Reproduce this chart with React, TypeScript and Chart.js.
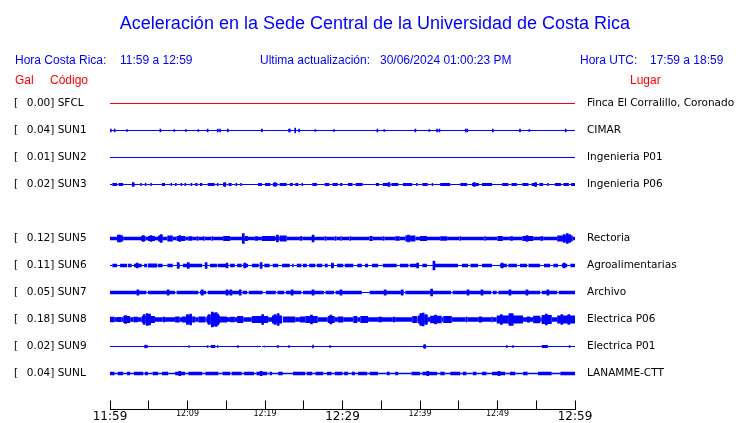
import React, { useEffect, useRef } from "react";
import { Chart, registerables } from "chart.js";

Chart.register(...registerables);

// ---------- texts ----------
const TITLE = "Aceleración en la Sede Central de la Universidad de Costa Rica";
const HEADER_CR = ["Hora Costa Rica:", "11:59 a 12:59"];
const HEADER_UPD = ["Ultima actualización:", "30/06/2024 01:00:23 PM"];
const HEADER_UTC = ["Hora UTC:", "17:59 a 18:59"];
const COL_GAL = "Gal";
const COL_CODE = "Código";
const COL_PLACE = "Lugar";

// ---------- stations ----------
const CODES = ["SFCL", "SUN1", "SUN2", "SUN3", "SUN5", "SUN6", "SUN7", "SUN8", "SUN9", "SUNL"];
const ROWS = [0, 1, 2, 3, 5, 6, 7, 8, 9, 10];
const GAL = ["0.00", "0.04", "0.01", "0.02", "0.12", "0.11", "0.05", "0.18", "0.02", "0.04"];
const PLACES = [
  "Finca El Corralillo, Coronado",
  "CIMAR",
  "Ingenieria P01",
  "Ingenieria P06",
  "Rectoria",
  "Agroalimentarias",
  "Archivo",
  "Electrica P06",
  "Electrica P01",
  "LANAMME-CTT",
];

// time axis (minutes after 11:59)
const X_LABELS = ["11:59", "12:09", "12:19", "12:29", "12:39", "12:49", "12:59"];
const BIG_LABELS = ["11:59", "12:29", "12:59"];

// background amplitude of each trace (half-height, amplitude units)
const BASE_AMP = [0.5, 0.5, 0.5, 0.5, 1.75, 0.5, 1.75, 2.25, 0.5, 0.75];

// bands: [startMin, endMin, amplitude]
const SFCL_BANDS: number[][] = [];
const SUN1_BANDS: number[][] = [];
const SUN2_BANDS: number[][] = [];
const SUN3_BANDS = [
  [0.3, 0.9, 1.5], [1.1, 1.7, 1.5], [2.9, 3.1, 1.5], [3.9, 4.1, 1.5], [4.5, 4.7, 1.5], [5.2, 5.4, 1.5],
  [6.7, 7.1, 1.5], [7.8, 8.0, 1.5], [8.4, 8.6, 1.5], [9.1, 9.3, 1.5], [9.6, 9.8, 1.5], [10.4, 10.6, 1.5],
  [11.0, 11.3, 1.5], [11.6, 11.9, 1.5], [12.6, 13.5, 1.5], [13.8, 14.0, 1.5], [14.6, 15.0, 1.5],
  [15.3, 15.7, 1.5], [16.2, 16.4, 1.5], [16.8, 17.0, 1.5], [19.1, 19.6, 1.5], [20.0, 20.7, 1.5],
  [21.0, 21.6, 1.5], [21.9, 22.8, 1.5], [23.2, 23.6, 1.5], [23.9, 24.3, 1.5], [24.7, 24.9, 1.5],
  [26.1, 26.7, 1.5], [27.7, 28.3, 1.5], [28.7, 29.4, 1.5], [29.7, 30.0, 1.5], [30.7, 31.3, 1.5],
  [31.7, 32.6, 1.5], [34.3, 34.7, 1.5], [35.2, 35.9, 1.5], [36.3, 37.2, 1.5], [37.8, 39.0, 1.5],
  [39.5, 39.7, 1.5], [40.3, 41.0, 1.5], [41.5, 41.7, 1.5], [42.6, 43.9, 1.5], [45.2, 46.1, 1.5],
  [46.7, 47.6, 1.5], [48.0, 49.3, 1.5], [50.6, 51.4, 1.5], [51.8, 52.5, 1.5], [53.2, 54.0, 1.5],
  [54.4, 55.1, 1.5], [55.4, 55.9, 1.5], [56.4, 56.6, 1.5], [57.4, 58.2, 1.5], [58.5, 59.2, 1.5],
  [59.5, 60, 1.5],
];
const SUN5_BANDS = [
  [0.9, 1.7, 3], [4.0, 4.6, 2.5], [4.9, 5.8, 2.5], [6.2, 6.8, 3], [7.4, 8.1, 3], [8.6, 9.7, 2.5],
  [10.1, 10.6, 2.25], [11.2, 11.4, 2.25], [12.0, 12.2, 2.25], [13.1, 13.3, 2.25], [14.6, 15.5, 2.5],
  [17.4, 17.8, 2.5], [18.7, 19.1, 2.25], [19.6, 21.3, 2.5], [21.9, 22.8, 3], [24.5, 24.8, 2.25],
  [26.1, 26.3, 2.5], [27.7, 27.9, 2.25], [29.0, 29.2, 2.25], [29.7, 29.9, 2.25], [30.9, 31.1, 2.25],
  [33.5, 33.9, 2.5], [35.2, 35.4, 2.25], [36.8, 37.4, 2.25], [38.1, 39.4, 3], [40.0, 40.9, 2.5],
  [42.6, 43.5, 2.25], [45.1, 45.3, 2.25], [48.3, 48.5, 2.25], [50.0, 50.7, 2.5], [51.6, 52.0, 2.25],
  [53.2, 54.6, 2.5], [55.5, 55.9, 2.25], [57.7, 59.7, 3],
];
const SUN6_BANDS = [
  [0.3, 0.9, 1.75], [1.3, 2.2, 1.75], [2.3, 2.8, 1.75], [3.1, 4.1, 1.75], [4.4, 4.8, 1.75],
  [4.9, 6.1, 2], [6.2, 6.8, 1.75], [7.4, 8.1, 1.75], [8.8, 9.0, 1.75], [9.4, 11.9, 1.75],
  [12.3, 12.5, 1.75], [12.9, 13.8, 1.75], [13.9, 15.2, 1.75], [15.5, 16.1, 1.75], [16.4, 17.0, 1.75],
  [17.2, 17.8, 1.75], [18.3, 19.2, 1.75], [19.9, 20.6, 1.75], [21.0, 21.7, 1.75], [22.2, 23.2, 1.75],
  [23.5, 23.7, 1.75], [24.1, 24.7, 1.75], [24.9, 25.4, 1.75], [25.7, 26.5, 1.75], [26.7, 27.4, 1.75],
  [27.7, 28.1, 1.75], [28.5, 28.9, 1.75], [29.3, 30.1, 1.75], [30.3, 31.4, 1.75], [31.9, 32.5, 1.75],
  [32.9, 33.3, 1.75], [33.8, 34.6, 1.75], [35.2, 37.0, 1.75], [37.4, 38.5, 1.75], [38.7, 39.6, 1.75],
  [40.3, 40.9, 1.75], [41.9, 44.9, 1.75], [45.4, 46.2, 1.75], [46.5, 47.5, 1.75], [48.0, 49.3, 1.75],
  [50.3, 51.2, 1.75], [51.4, 52.5, 1.75], [52.9, 53.8, 1.75], [54.0, 55.5, 1.75], [56.0, 56.8, 1.75],
  [57.2, 57.8, 1.75], [58.3, 59.0, 1.75], [59.4, 60, 1.75],
];
const SUN7_BANDS = [
  [4.7, 4.9, 0.5], [8.4, 8.6, 0.5], [11.4, 11.6, 0.5], [12.4, 12.6, 0.5], [16.9, 17.1, 0.5],
  [17.7, 17.9, 0.5], [19.7, 20.1, 0.5], [21.4, 21.6, 0.5], [22.5, 22.7, 0.5], [24.7, 24.9, 0.5],
  [27.6, 27.8, 0.5], [28.9, 29.1, 0.5], [32.5, 33.5, 0.5], [37.9, 38.1, 0.5], [44.0, 44.2, 0.5],
  [49.2, 49.4, 0.5], [49.9, 50.1, 0.5], [55.5, 55.7, 0.5], [57.7, 57.9, 0.5],
];
const SUN8_BANDS = [
  [0, 0.6, 2.75], [0.9, 1.5, 2.5], [1.7, 2.6, 3.5], [3.0, 3.6, 2.75], [4.1, 4.6, 3.5], [4.6, 5.2, 4.5],
  [5.2, 5.8, 3.5], [6.8, 7.1, 2.75], [8.4, 9.0, 3], [9.3, 9.8, 3], [9.8, 10.6, 4], [10.6, 11.0, 3],
  [11.4, 12.3, 3], [12.5, 13.0, 4], [13.0, 13.9, 5], [13.9, 14.2, 4], [14.2, 15.1, 3], [15.5, 16.1, 2.75],
  [16.4, 17.2, 3.5], [18.3, 20.4, 3.5], [20.9, 22.2, 4], [22.3, 23.9, 3], [24.5, 25.2, 3],
  [25.2, 26.8, 3.5], [28.1, 29.0, 3.5], [29.4, 30.1, 3], [31.4, 31.9, 3.5], [32.3, 33.3, 3.5],
  [34.6, 35.1, 2.75], [36.5, 36.8, 2.75], [39.0, 39.6, 3.5], [39.7, 40.1, 4], [40.1, 40.6, 5],
  [40.6, 41.0, 4], [41.3, 42.8, 3.75], [43.0, 44.1, 3.5], [45.9, 46.1, 2.75], [47.6, 48.0, 3],
  [49.2, 49.4, 2.75], [49.9, 51.4, 4], [51.4, 52.0, 4.5], [52.0, 53.3, 4], [53.8, 54.2, 3],
  [54.6, 55.5, 3.75], [55.7, 57.0, 4.5], [57.7, 60, 4],
];
const SUN9_BANDS = [
  [4.4, 4.9, 1.25], [10.1, 10.3, 1.25], [12.5, 12.7, 1.25], [13.0, 13.6, 1.5], [13.8, 14.0, 1.25],
  [19.0, 19.1, 1], [19.5, 19.6, 1], [19.9, 20.0, 1], [21.5, 21.8, 1.25], [40.4, 40.8, 1.75],
  [55.7, 56.5, 1.5],
];
const SUNL_BANDS = [
  [0, 0.6, 1.75], [1.0, 1.7, 1.75], [2.2, 2.6, 1.75], [3.1, 4.3, 1.75], [4.5, 4.9, 1.75], [5.5, 6.2, 1.75],
  [6.7, 7.5, 1.75], [8.4, 9.7, 1.75], [10.1, 11.9, 1.75], [12.3, 14.0, 1.75], [14.5, 15.5, 1.75],
  [15.7, 17.0, 1.75], [17.3, 18.6, 1.75], [18.9, 20.3, 1.75], [20.6, 20.9, 1.75], [21.7, 22.3, 1.75],
  [23.6, 25.2, 1.75], [25.4, 26.1, 1.75], [26.5, 27.5, 1.75], [28.0, 28.6, 1.75], [29.0, 30.0, 1.75],
  [30.2, 30.7, 1.75], [31.2, 31.6, 1.75], [32.0, 33.2, 1.75], [33.5, 34.6, 1.75], [35.7, 36.1, 1.75],
  [36.8, 37.2, 1.75], [38.9, 40.0, 1.75], [40.3, 42.2, 1.75], [42.6, 43.2, 1.75], [43.9, 45.2, 1.75],
  [45.5, 46.0, 1.75], [46.8, 47.3, 1.75], [48.0, 48.6, 1.75], [49.3, 51.0, 1.75], [51.6, 52.3, 1.75],
  [53.3, 53.9, 1.75], [55.2, 57.0, 1.75], [58.1, 60, 1.75],
];

// spikes: [minute, amplitude]
const SFCL_SPIKES: number[][] = [];
const SUN1_SPIKES = [
  [0.1, 1.5], [0.6, 1.5], [2.2, 1], [6.5, 1.5], [8.3, 1], [9.8, 1], [11.4, 1], [12.6, 1.5], [13.9, 1.5],
  [14.2, 1.5], [15.2, 1.5], [19.6, 1.5], [23.1, 1.5], [23.2, 1.5], [23.9, 2.5], [24.4, 1.5], [26.5, 1],
  [28.9, 1], [34.5, 1.5], [35.4, 1], [39.4, 1.5], [41.2, 1], [42.2, 1.5], [42.5, 1.5], [45.9, 1.5],
  [46.1, 1.5], [49.4, 1.5], [52.9, 1.5], [54.1, 1], [58.8, 1.5],
];
const SUN2_SPIKES: number[][] = [];
const SUN3_SPIKES = [[3.0, 2], [14.8, 2], [21.3, 2], [36.0, 2], [47.0, 2], [54.9, 2]];
const SUN5_SPIKES = [
  [1.1, 3.5], [1.3, 3.5], [4.3, 3], [5.3, 3], [6.6, 4], [9.0, 3], [17.2, 5], [21.6, 3.5], [26.2, 3.5],
  [38.5, 3.5], [53.8, 3], [58.6, 4], [59.0, 5], [59.3, 4],
];
const SUN6_SPIKES = [
  [3.5, 2.5], [8.8, 3], [10.1, 3], [12.4, 3], [15.1, 2.5], [17.4, 2.5], [19.5, 3], [28.7, 2.5],
  [39.7, 2.5], [41.8, 4.5], [50.6, 2.5], [58.6, 2.5],
];
const SUN7_SPIKES = [
  [3.6, 2.75], [7.5, 2.75], [11.9, 2.75], [15.1, 2.75], [15.6, 2.75], [16.8, 2.75], [23.5, 2.75],
  [26.2, 2.75], [29.8, 2.75], [35.5, 2.75], [37.7, 2.75], [41.5, 3.5], [46.2, 2.75], [48.0, 2.75],
  [51.6, 2.75], [53.8, 2.75], [56.5, 2.75],
];
const SUN8_SPIKES = [
  [2.0, 4], [4.4, 5], [4.8, 6], [5.1, 5.5], [10.0, 5], [10.4, 5.5], [12.8, 5], [13.2, 7.5], [13.4, 6.5],
  [13.7, 7], [13.9, 5.5], [19.7, 5], [21.3, 5], [21.7, 6], [26.0, 4.5], [28.5, 4.5], [40.1, 6],
  [40.4, 6.5], [40.8, 5], [42.0, 4.5], [50.5, 5], [51.6, 6], [51.9, 6], [56.3, 5.5], [58.3, 5], [59.2, 5],
];
const SUN9_SPIKES = [
  [4.6, 1.5], [16.5, 1], [23.1, 1], [26.2, 1.5], [28.4, 1], [40.6, 2], [51.2, 1], [52.0, 1], [59.3, 1],
];
const SUNL_SPIKES = [[9.0, 2.25], [19.5, 2.25], [41.0, 2.25], [50.2, 2.25]];

const BANDS = [SFCL_BANDS, SUN1_BANDS, SUN2_BANDS, SUN3_BANDS, SUN5_BANDS, SUN6_BANDS, SUN7_BANDS, SUN8_BANDS, SUN9_BANDS, SUNL_BANDS];
const SPIKES = [SFCL_SPIKES, SUN1_SPIKES, SUN2_SPIKES, SUN3_SPIKES, SUN5_SPIKES, SUN6_SPIKES, SUN7_SPIKES, SUN8_SPIKES, SUN9_SPIKES, SUNL_SPIKES];

// ---------- styles ----------
const BLUE = "#0000ff";
const RED = "#ff0000";
const TRACE_COLORS = [RED, BLUE, BLUE, BLUE, BLUE, BLUE, BLUE, BLUE, BLUE, BLUE];
const SPIKE_WIDTH = [1, 1, 1, 2, 2, 2, 2, 2, 1, 2];
const AMP_PER_ROW = 27; // amplitude units per trace row
const T_END = 60;

export default function App() {
  const canvasRef = useRef<HTMLCanvasElement>(null);

  useEffect(() => {
    if (!canvasRef.current) return;
    let pxPerAmp = 1;
    const datasets: any[] = [];

    CODES.forEach((code, i) => {
      const row = ROWS[i];
      const base = BASE_AMP[i];
      const segs: number[][] = [];
      let cur = 0;
      for (const [a, b, amp] of BANDS[i]) {
        if (a > cur) segs.push([cur, a, base]);
        segs.push([a, b, amp]);
        cur = b;
      }
      if (cur < T_END) segs.push([cur, T_END, base]);
      const pts = segs.map((s) => ({ x: s[0], y: row }));
      pts.push({ x: T_END, y: row });
      const color = TRACE_COLORS[i];
      datasets.push({
        type: "line",
        label: code,
        data: pts,
        borderColor: color,
        backgroundColor: color,
        borderWidth: 2 * base,
        borderCapStyle: "butt",
        pointRadius: 0,
        pointHoverRadius: 0,
        fill: false,
        tension: 0,
        segment: {
          borderWidth: (ctx: any) => Math.max(1, 2 * segs[ctx.p0DataIndex][2] * pxPerAmp),
        },
      });
      datasets.push({
        type: "bar",
        label: code + " spikes",
        data: SPIKES[i].map(([t, a]) => ({ x: t, y: [row - a / AMP_PER_ROW, row + a / AMP_PER_ROW] })),
        backgroundColor: color,
        borderWidth: 0,
        borderSkipped: false,
        barThickness: SPIKE_WIDTH[i],
        grouped: false,
      });
    });

    const ampPlugin = {
      id: "ampScale",
      afterLayout(chart: any) {
        const y = chart.scales.y;
        pxPerAmp = Math.abs(y.getPixelForValue(1 / AMP_PER_ROW) - y.getPixelForValue(0));
      },
    };

    const yCommon = {
      type: "linear",
      min: -1,
      max: 11 + 1 / 3,
      reverse: true,
      grid: { display: false, drawTicks: false },
      border: { display: false },
      afterBuildTicks: (s: any) => {
        s.ticks = ROWS.map((v) => ({ value: v }));
      },
    };

    const chart = new Chart(canvasRef.current, {
      type: "line",
      data: { datasets },
      plugins: [ampPlugin],
      options: {
        responsive: false,
        animation: false,
        devicePixelRatio: 1,
        layout: { padding: { left: 14, right: 0, top: 76.5, bottom: 0 } },
        plugins: { legend: { display: false }, tooltip: { enabled: false }, title: { display: false } },
        events: [],
        scales: {
          x: {
            type: "linear",
            position: "bottom",
            min: 0,
            max: T_END,
            offset: false,
            grid: {
              display: true,
              drawOnChartArea: false,
              drawTicks: true,
              tickLength: -9,
              color: "#000",
              lineWidth: 1,
              offset: false,
            },
            border: { display: true, color: "#000", width: 1 },
            ticks: {
              stepSize: 5,
              autoSkip: false,
              maxRotation: 0,
              minRotation: 0,
              padding: 9,
              color: "#000",
              font: (ctx: any) => {
                const v = ctx.tick ? ctx.tick.value : 0;
                const lbl = v % 10 === 0 ? X_LABELS[v / 10] : "";
                return { family: "DejaVu Sans", size: BIG_LABELS.includes(lbl) ? 12 : 8 };
              },
              callback: (v: any) => (Number(v) % 10 === 0 ? X_LABELS[Number(v) / 10] : ""),
            },
            afterFit: (s: any) => {
              s.height = 13.5;
              s.paddingTop = 0;
              s.paddingBottom = 0;
              s.paddingLeft = 0;
              s.paddingRight = 0;
            },
          },
          y: {
            ...yCommon,
            position: "left",
            ticks: {
              autoSkip: false,
              crossAlign: "far",
              padding: 0,
              color: "#000",
              font: { family: "DejaVu Sans", size: 10.5 },
              callback: (_v: any, idx: number) => `[  \u2009${GAL[idx]}] ${CODES[idx]}`,
            },
            afterFit: (s: any) => {
              s.width = 96;
              s.paddingTop = 0;
              s.paddingBottom = 0;
            },
          },
          yR: {
            ...yCommon,
            position: "right",
            ticks: {
              autoSkip: false,
              crossAlign: "near",
              padding: 12,
              color: "#000",
              font: { family: "DejaVu Sans", size: 10.5 },
              callback: (_v: any, idx: number) => PLACES[idx],
            },
            afterFit: (s: any) => {
              s.width = 165;
              s.paddingTop = 0;
              s.paddingBottom = 0;
            },
          },
        },
      } as any,
    });
    return () => chart.destroy();
  }, []);

  const hdr: React.CSSProperties = {
    position: "absolute",
    fontFamily: "'Liberation Sans', Arial, sans-serif",
    fontSize: 12,
    lineHeight: "14px",
    whiteSpace: "nowrap",
    color: BLUE,
  };
  const red: React.CSSProperties = { ...hdr, color: RED };

  return (
    <div style={{ position: "absolute", left: 0, top: 0, width: 740, height: 423, background: "#fff", overflow: "hidden" }}>
      <canvas ref={canvasRef} width={740} height={423} style={{ position: "absolute", left: 0, top: 0, width: 740, height: 423 }} />
      <div
        style={{
          position: "absolute",
          left: 0,
          top: 13,
          width: 750,
          textAlign: "center",
          fontFamily: "'Liberation Sans', Arial, sans-serif",
          fontSize: 18,
          lineHeight: "20px",
          color: BLUE,
          whiteSpace: "nowrap",
        }}
      >
        {TITLE}
      </div>
      <div style={{ ...hdr, left: 15, top: 53 }}>{HEADER_CR[0]}</div>
      <div style={{ ...hdr, left: 120, top: 53 }}>{HEADER_CR[1]}</div>
      <div style={{ ...hdr, left: 260, top: 53 }}>{HEADER_UPD[0]}</div>
      <div style={{ ...hdr, left: 380, top: 53 }}>{HEADER_UPD[1]}</div>
      <div style={{ ...hdr, left: 580, top: 53 }}>{HEADER_UTC[0]}</div>
      <div style={{ ...hdr, left: 650, top: 53 }}>{HEADER_UTC[1]}</div>
      <div style={{ ...red, left: 15, top: 73 }}>{COL_GAL}</div>
      <div style={{ ...red, left: 50, top: 73 }}>{COL_CODE}</div>
      <div style={{ ...red, left: 630, top: 73 }}>{COL_PLACE}</div>
    </div>
  );
}
